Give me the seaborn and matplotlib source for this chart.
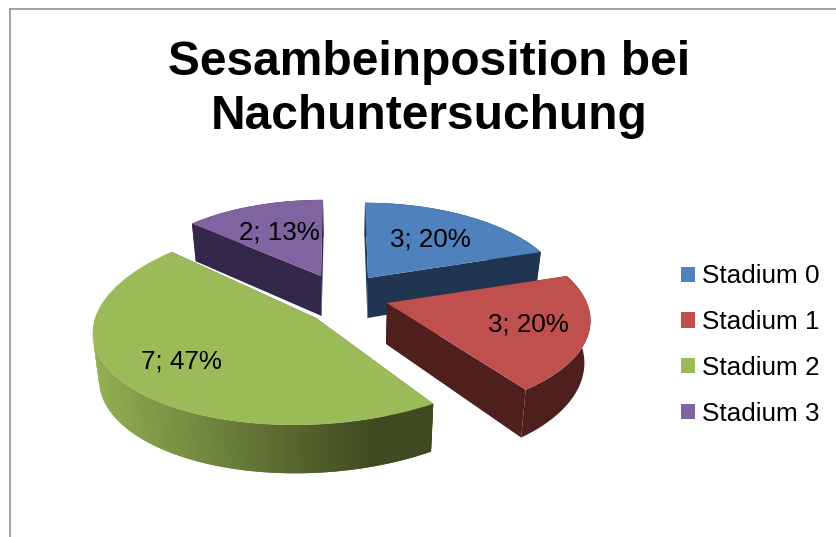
import numpy as np
import matplotlib
matplotlib.use("Agg")
import matplotlib.pyplot as plt
from matplotlib.collections import PolyCollection
from matplotlib.colors import to_rgb
from matplotlib.transforms import Transform
import seaborn as sns

# --- data -----------------------------------------------------------------
categories = ["Stadium 0", "Stadium 1", "Stadium 2", "Stadium 3"]
counts = [3, 3, 7, 2]
chart_title = "Sesambeinposition bei\nNachuntersuchung"

# --- style / layout -------------------------------------------------------
top_colors = ["#4F81BD", "#C0504D", "#9BBB59", "#8064A2"]
wall_colors = ["#1F3550", "#4F1F1D", "#3F4A20", "#33274A"]
# per slice: apex x, apex y, radius x, radius y, perspective, shear, depth
slice_geometry = [
    (368, 278, 193, 89, 0.183, -3, 40),
    (387, 303, 200, 92, 0.176, -2, 41),
    (316, 318, 221, 102, 0.047, 22, 46),
    (321, 276, 186, 83, 0.09, 2, 40),
]
label_pos = [(36.4, 0.607), (107, 0.71), (234.4, 0.687), (337.1, 0.624)]
draw_order = [3, 0, 1, 2]
VANISH_X, BOTTOM_SHRINK = 345, 0.025

sns.set_theme(style="white")
plt.rcParams["font.family"] = ["Liberation Sans", "DejaVu Sans"]


def project(x, y, geom, drop=0.0):
    """Pie plane (unit circle) -> canvas, with a simple perspective."""
    ax0, ay0, rx, ry, persp, shear, depth = geom
    x, y = np.asarray(x, float), np.asarray(y, float)
    s = 1.0 / (1.0 + persp * y)
    px = ax0 + x * rx * s + shear * y
    px = px + drop * BOTTOM_SHRINK * (VANISH_X - px)
    return px, ay0 - y * ry * s + drop * depth * s


class SliceProjection(Transform):
    input_dims = output_dims = 2
    is_affine = False
    has_inverse = False

    def __init__(self, geom):
        super().__init__()
        self.geom = geom

    def transform_non_affine(self, values):
        px, py = project(values[:, 0], values[:, 1], self.geom)
        return np.column_stack([px, py])


fig = plt.figure(figsize=(8.37, 5.37), dpi=100, facecolor="white")
ax = fig.add_axes([0, 0, 1, 1])
palette = sns.color_palette(top_colors)
wedges, _ = ax.pie(counts, colors=palette, startangle=90, counterclock=False,
                   radius=1.0, wedgeprops=dict(linewidth=0))
ax.set_aspect("auto")
ax.set_xlim(0, 837)
ax.set_ylim(537, 0)
ax.set_axis_off()

for rank, i in enumerate(draw_order):
    w = wedges[i]
    geom = slice_geometry[i]
    w.set_transform(SliceProjection(geom) + ax.transData)
    w.set_zorder(3 * rank + 3)
    # matplotlib angles -> angles clockwise from the top
    a0, a1 = np.sort([90 - w.theta1, 90 - w.theta2])
    th = np.radians(np.linspace(a0, a1, 200))
    X, Y = np.sin(th), np.cos(th)
    tx, ty = project(X, Y, geom)
    bx, by = project(X, Y, geom, 1)
    cx0, cy0 = project(0, 0, geom)
    cx1, cy1 = project(0, 0, geom, 1)
    z = 3 * rank + 2
    if i == 2:
        # shaded rim: left to right, overlapping strips painted over each other
        last = int(np.argmin(tx))
        sx, sy, ux, uy = tx[last::-1], ty[last::-1], bx[last::-1], by[last::-1]
        light, dark = np.array(to_rgb("#93AE53")), np.array(to_rgb(wall_colors[i]))
        quads, cols = [], []
        for k in range(len(sx) - 1):
            e = min(k + 2, len(sx) - 1)
            quads.append([(sx[k], sy[k]), (sx[e], sy[e]), (ux[e], uy[e]), (ux[k], uy[k])])
            f = np.clip((sx[k] - sx[0]) / (370 - sx[0]), 0, 1)
            cols.append(light * (1 - f) + dark * f)
        ax.add_collection(PolyCollection(quads, facecolors=cols, edgecolors="none", zorder=z))
    else:
        ax.fill(np.r_[tx, bx[::-1]], np.r_[ty, by[::-1]], color=wall_colors[i], lw=0, zorder=z)
    # the two cut faces
    for j in (0, -1):
        ax.fill([cx0, tx[j], bx[j], cx1], [cy0, ty[j], by[j], cy1],
                color=wall_colors[i], lw=0, zorder=z)

total = sum(counts)
for i, v in enumerate(counts):
    deg, frac = label_pos[i]
    t = np.radians(deg)
    lx, ly = project(frac * np.sin(t), frac * np.cos(t), slice_geometry[i])
    ax.text(lx, ly + 1.5, f"{v}; {round(100 * v / total)}%", fontsize=18.7, color="black",
            ha="center", va="center", zorder=30)

ax.text(429, 89.5, chart_title, fontsize=34.5, fontweight="bold", color="black",
        ha="center", va="center", linespacing=1.25, zorder=30)

ax.plot([10, 10, 837], [537, 9, 9], color="#868686", lw=1.1, zorder=1, solid_joinstyle="miter")

ax.legend(wedges, categories, loc="center left", bbox_to_anchor=(681, 345),
          bbox_transform=ax.transData, frameon=False, fontsize=18.8, labelcolor="black",
          borderpad=0, borderaxespad=0, handlelength=0.53, handleheight=0.53,
          handletextpad=0.27, labelspacing=0.83)

fig.savefig("out.png", dpi=100, facecolor="white")
